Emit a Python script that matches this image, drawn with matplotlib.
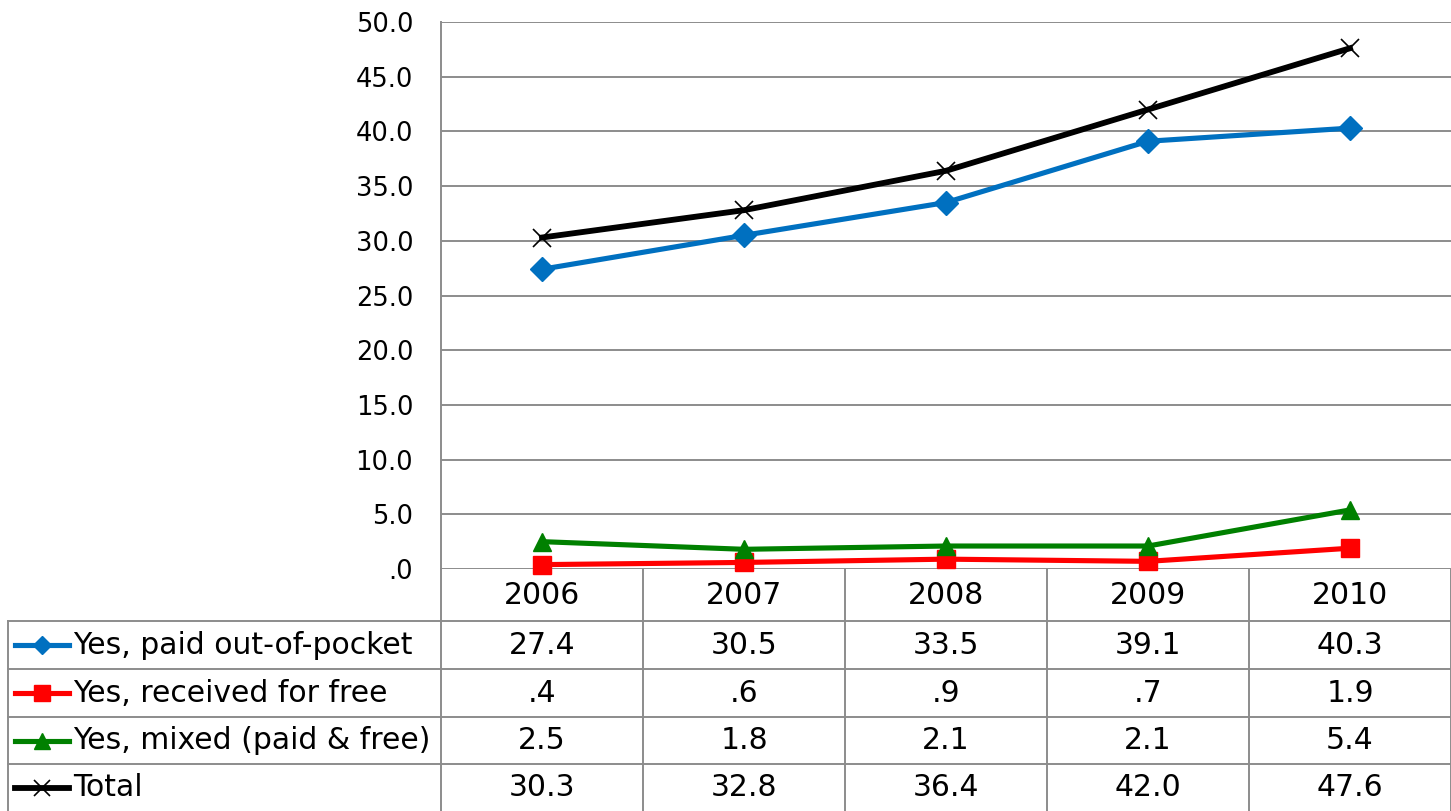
import matplotlib
matplotlib.use("Agg")
import matplotlib.pyplot as plt
from matplotlib.lines import Line2D
from matplotlib.transforms import blended_transform_factory

plt.rcParams['font.family'] = ['DejaVu Sans']

# ---- data ----
years = ["2006", "2007", "2008", "2009", "2010"]
paid_out_of_pocket = [27.4, 30.5, 33.5, 39.1, 40.3]
received_for_free = [0.4, 0.6, 0.9, 0.7, 1.9]
mixed_paid_free = [2.5, 1.8, 2.1, 2.1, 5.4]
total = [30.3, 32.8, 36.4, 42.0, 47.6]
series_labels = ["Yes, paid out-of-pocket", "Yes, received for free",
                 "Yes, mixed (paid & free)", "Total"]
y_ticks = [0, 5, 10, 15, 20, 25, 30, 35, 40, 45, 50]

series = [paid_out_of_pocket, received_for_free, mixed_paid_free, total]
styles = [
    dict(color="#0070C0", marker="D", ms=12, mew=1, lw=3.7),
    dict(color="#FF0000", marker="s", ms=13, mew=1, lw=3.7),
    dict(color="#008000", marker="^", ms=13, mew=1, lw=3.7),
    dict(color="#000000", marker="x", ms=13, mew=1.2, lw=4.2),
]
legend_ms = [9, 11, 11, 11]


def fmt(v):
    s = f"{v:.1f}"
    if s.startswith("0"):
        s = s[1:]
    return s


W, H = 1451, 811
fig = plt.figure(figsize=(W / 100, H / 100), dpi=100)

TICK_FS = 18.5
TABLE_FS = 21.5

# plot region (pixel layout)
left, right, top, bottom = 441, 1451, 22, 569
ax = fig.add_axes([left / W, (H - bottom) / H, (right - left) / W, (bottom - top) / H])
ax.set_xlim(-0.5, len(years) - 0.5)
ax.set_ylim(0, 50)
ax.set_yticks(y_ticks)
ax.set_yticklabels([fmt(t) for t in y_ticks], fontsize=TICK_FS)
ax.set_xticks([])
ax.tick_params(axis="y", length=0, pad=20)
for s in ["top", "right", "bottom"]:
    ax.spines[s].set_visible(False)
ax.spines["left"].set_color("#8c8c8c")
ax.spines["left"].set_linewidth(1.4)
ax.grid(axis="y", color="#8c8c8c", linewidth=1.4)
ax.set_axisbelow(True)

xs = list(range(len(years)))
for vals, st in zip(series, styles):
    ax.plot(xs, vals, color=st["color"], lw=st["lw"], marker=st["marker"],
            ms=st["ms"], mec=st["color"], mfc=st["color"], mew=st["mew"],
            clip_on=False, zorder=3)

# ---- data table below the plot ----
ov = fig.add_axes([0, 0, 1, 1], zorder=-1)
ov.set_xlim(0, W)
ov.set_ylim(H, 0)
ov.axis("off")
bt = blended_transform_factory(ax.transData, ov.transData)

grid_c = "#8c8c8c"
row_edges = [569, 621, 669, 717, 764, 811]
table_left = 8

# vertical separators between year columns
for i in range(len(years)):
    xe = i + 0.5
    ov.add_line(Line2D([xe, xe], [row_edges[0], row_edges[-1]], transform=bt,
                       color=grid_c, lw=1.4))
# y-axis line continues through the table
ov.add_line(Line2D([-0.5, -0.5], [row_edges[0], row_edges[-1]], transform=bt,
                   color=grid_c, lw=1.4))
# left border of the label column
ov.add_line(Line2D([table_left, table_left], [row_edges[1], row_edges[-1]],
                   color=grid_c, lw=1.4))
# horizontal row lines
for ye in row_edges[1:-1]:
    ov.add_line(Line2D([table_left, W], [ye, ye], color=grid_c, lw=1.4))

# header row with years
hy = (row_edges[0] + row_edges[1]) / 2
for i, yr in enumerate(years):
    ov.text(i, hy, yr, transform=bt, ha="center", va="center", fontsize=TABLE_FS)

# series rows
for r, (vals, st, lab) in enumerate(zip(series, styles, series_labels)):
    cy = (row_edges[r + 1] + row_edges[r + 2]) / 2
    ov.add_line(Line2D([15, 42, 69], [cy, cy, cy], color=st["color"], lw=st["lw"],
                       marker=st["marker"], ms=legend_ms[r], mec=st["color"],
                       mfc=st["color"], mew=st["mew"], markevery=[1]))
    ov.text(73, cy, lab, ha="left", va="center", fontsize=TABLE_FS)
    for i, v in enumerate(vals):
        ov.text(i, cy, fmt(v), transform=bt, ha="center", va="center",
                fontsize=TABLE_FS)

fig.savefig("out.png", dpi=100)
